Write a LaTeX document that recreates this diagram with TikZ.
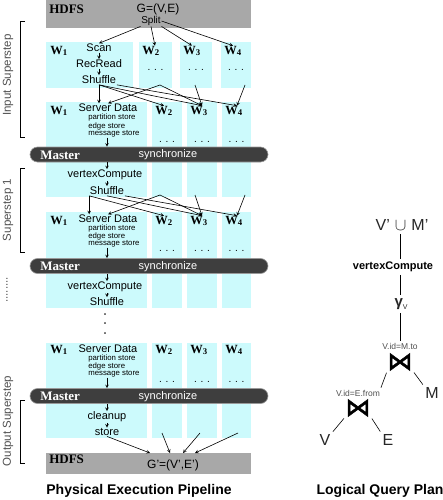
\documentclass[tikz,border=0pt]{standalone}
\usepackage{fontspec}
\setmainfont{Liberation Sans}
\newfontfamily\wserif{Liberation Serif}
\newfontfamily\joinfont[FakeBold=2]{DejaVu Sans}
\usepackage{amsmath}
\usetikzlibrary{arrows,shapes,positioning,calc}

\definecolor{wcyan}{RGB}{204,250,252}
\definecolor{hdfsgray}{RGB}{168,168,168}
\definecolor{mastergray}{RGB}{62,62,62}
\definecolor{labelgray}{RGB}{80,80,80}

\newcommand{\fsz}[1]{\fontsize{#1}{#1}\selectfont}
\newcommand{\wk}[1]{W\textsubscript{#1}}

\tikzset{
	wbox/.style={fill=wcyan},
	wname/.style={anchor=west,inner sep=0pt,font=\wserif\bfseries\fsz{12.5}},
	op/.style={inner sep=0.5pt,font=\fsz{11}},
	store/.style={anchor=west,inner sep=0pt,font=\fsz{7.8}},
	dots/.style={inner sep=0pt,font=\fsz{10}},
	masterbar/.style={draw=gray!80,fill=mastergray,rounded corners=7.5pt,minimum width=238pt,minimum height=15pt,inner sep=0pt},
	mtext/.style={text=white,inner sep=0pt,font=\fsz{11}},
	hdfs/.style={fill=hdfsgray},
	steplabel/.style={rotate=90,text=labelgray,inner sep=0pt,font=\fsz{11.5}},
	plan/.style={inner sep=1pt,text=black!85,font=\fsz{16}},
	joinop/.style={inner sep=0pt,font=\joinfont\fsz{25}},
	cond/.style={inner sep=0pt,text=labelgray,font=\fsz{8.5}},
	planline/.style={shorten <=2pt,shorten >=2pt},
	title/.style={inner sep=0pt,font=\bfseries\fsz{14}},
}

\begin{document}
\begin{tikzpicture}[x=1pt,y=-1pt,>=stealth,line width=0.6pt]
	\useasboundingbox (0,0) rectangle (443,500);

	% input from HDFS
	\fill[hdfs] (46,0) rectangle (251,28);
	\node[anchor=west,inner sep=0pt,font=\wserif\bfseries\fsz{13}] at (49,9) (hdfsin) {HDFS};
	\node[op,font=\fsz{12}] at (158,9) (gin) {G=(V,E)};
	\node[op,font=\fsz{10}] at (151,21) (split) {Split};

	% worker columns
	\fill[wbox] (46,42) rectangle (133,88);
	\fill[wbox] (139,42) rectangle (172,88);
	\fill[wbox] (180,42) rectangle (212,88);
	\fill[wbox] (221,42) rectangle (251,88);
	\foreach \ya/\yb in {102/197,212/308,343/438} {
		\fill[wbox] (46,\ya) rectangle (147,\yb);
		\fill[wbox] (152,\ya) rectangle (182,\yb);
		\fill[wbox] (187,\ya) rectangle (217,\yb);
		\fill[wbox] (222,\ya) rectangle (251,\yb);
	}

	% input superstep: read
	\node[wname] at (50,51) (w1a) {\wk{1}};
	\node[wname] at (142,51) (w2a) {\wk{2}};
	\node[wname] at (183,51) (w3a) {\wk{3}};
	\node[wname] at (224,51) (w4a) {\wk{4}};
	\node[op] at (99,48) (scan) {Scan};
	\node[op] at (99,64) (recread) {RecRead};
	\node[op] at (99,80) (shuf1) {Shuffle};
	\node[dots] at (155.5,70) (d2a) {. . .};
	\node[dots] at (196,70) (d3a) {. . .};
	\node[dots] at (236,70) (d4a) {. . .};
	\coordinate (o2a) at (160,85);
	\coordinate (o3a) at (195,85);
	\coordinate (o4a) at (245,85);

	% input superstep: server data
	\node[wname] at (50,111) (w1b) {\wk{1}};
	\node[wname] at (155,111) (w2b) {\wk{2}};
	\node[wname] at (190,111) (w3b) {\wk{3}};
	\node[wname] at (225,111) (w4b) {\wk{4}};
	\node[op] at (108,108) (sd1) {Server Data};
	\node[store] at (88,117) (ps1) {partition store};
	\node[store] at (88,126) (es1) {edge store};
	\node[store] at (88,134) (ms1) {message store};
	\node[dots] at (167,142) (d2b) {. . .};
	\node[dots] at (202,142) (d3b) {. . .};
	\node[dots] at (236.5,142) (d4b) {. . .};

	\node[masterbar] at (149,154.5) (m1) {};
	\node[mtext,anchor=west,font=\wserif\bfseries\fsz{13}] at (40,155) (mn1) {Master};
	\node[mtext] at (168,155) (sy1) {synchronize};

	% superstep 1
	\node[op] at (105,175) (vc1) {vertexCompute};
	\node[op] at (107,191) (shuf2) {Shuffle};
	\coordinate (o2b) at (160,195);
	\coordinate (o3b) at (195,195);
	\coordinate (o4b) at (245,195);
	\node[wname] at (50,221) (w1c) {\wk{1}};
	\node[wname] at (155,221) (w2c) {\wk{2}};
	\node[wname] at (190,221) (w3c) {\wk{3}};
	\node[wname] at (225,221) (w4c) {\wk{4}};
	\node[op] at (108,219) (sd2) {Server Data};
	\node[store] at (88,228) (ps2) {partition store};
	\node[store] at (88,236) (es2) {edge store};
	\node[store] at (88,244) (ms2) {message store};
	\node[dots] at (167,251) (d2c) {. . .};
	\node[dots] at (202,251) (d3c) {. . .};
	\node[dots] at (236.5,251) (d4c) {. . .};

	\node[masterbar] at (149,266) (m2) {};
	\node[mtext,anchor=west,font=\wserif\bfseries\fsz{13}] at (40,266.5) (mn2) {Master};
	\node[mtext] at (168,266.5) (sy2) {synchronize};

	\node[op] at (105,287) (vc2) {vertexCompute};
	\node[op] at (107,302) (shuf3) {Shuffle};
	\node[dots,rotate=90,font=\fsz{14}] at (105,324) (vdots) {. . .};

	% output superstep
	\node[wname] at (50,350) (w1d) {\wk{1}};
	\node[wname] at (155,350) (w2d) {\wk{2}};
	\node[wname] at (190,350) (w3d) {\wk{3}};
	\node[wname] at (225,350) (w4d) {\wk{4}};
	\node[op] at (108,349) (sd3) {Server Data};
	\node[store] at (88,358) (ps3) {partition store};
	\node[store] at (88,366) (es3) {edge store};
	\node[store] at (88,374) (ms3) {message store};
	\node[dots] at (167,382) (d2d) {. . .};
	\node[dots] at (202,382) (d3d) {. . .};
	\node[dots] at (236.5,382) (d4d) {. . .};

	\node[masterbar] at (149,396) (m3) {};
	\node[mtext,anchor=west,font=\wserif\bfseries\fsz{13}] at (40,396.5) (mn3) {Master};
	\node[mtext] at (168,396.5) (sy3) {synchronize};

	\node[op] at (107,417) (cleanup) {cleanup};
	\node[op] at (107,432) (store) {store};
	\coordinate (o2d) at (162,433);
	\coordinate (o3d) at (200,433);
	\coordinate (o4d) at (238,433);

	% output to HDFS
	\fill[hdfs] (46,453) rectangle (251,474);
	\node[anchor=west,inner sep=0pt,font=\wserif\bfseries\fsz{13}] at (49,459) (hdfsout) {HDFS};
	\node[op,font=\fsz{12}] at (173,465) (gout) {G'=(V',E')};
	\coordinate (t1) at (150,453);
	\coordinate (t2) at (170,453);
	\coordinate (t3) at (183,453);
	\coordinate (t4) at (195,453);

	% arrows: read
	\draw[->] (split.south west) -- (scan.north);
	\draw[->] (split.south) -- ([xshift=4pt]w2a.north);
	\draw[->] (split.south east) -- (w3a.north);
	\draw[->] (split.east) -- (w4a.north);
	\draw[->] (scan) -- (recread);
	\draw[->] (recread) -- (shuf1);
	\draw[->] (shuf1.south) -- (shuf1.south |- sd1.north);
	\draw[->] (shuf1.south) -- (w2b.north);
	\draw[->] (shuf1.south) -- ([xshift=3pt]w3b.north);
	\draw[->] (shuf1.south east) -- ([xshift=3pt]w4b.north);
	\draw[->] (o2a) -- (sd1.north);
	\draw[->] (o2a) -- ([xshift=3pt]w3b.north);
	\draw[->] (o3a) -- ([xshift=3pt]w3b.north);
	\draw[->] (o4a) -- ([xshift=3pt]w4b.north);
	\draw[->] (shuf2 |- ms1.south) -- (shuf2 |- m1.north);

	% arrows: superstep 1
	\draw[->] (shuf2 |- m1.south) -- (shuf2 |- vc1.north);
	\draw[->] (shuf2 |- vc1.south) -- (shuf2.north);
	\draw[->] (shuf2.south west) -- (shuf2.south west |- sd2.north);
	\draw[->] (shuf2.south west) -- (w2c.north);
	\draw[->] (shuf2.south) -- ([xshift=3pt]w3c.north);
	\draw[->] (shuf2.south east) -- ([xshift=3pt]w4c.north);
	\draw[->] (o2b) -- (sd2.north);
	\draw[->] (o2b) -- ([xshift=3pt]w3c.north);
	\draw[->] (o3b) -- ([xshift=3pt]w3c.north);
	\draw[->] (o4b) -- ([xshift=3pt]w4c.north);
	\draw[->] (shuf2 |- ms2.south) -- (shuf2 |- m2.north);
	\draw[->] (shuf3 |- m2.south) -- (shuf3 |- vc2.north);
	\draw[->] (shuf3 |- vc2.south) -- (shuf3.north);

	% arrows: output
	\draw[->] (cleanup |- ms3.south) -- (cleanup |- m3.north);
	\draw[->] (cleanup |- m3.south) -- (cleanup.north);
	\draw[->] (cleanup) -- (store);
	\draw[->] (store.south) -- (t1);
	\draw[->] (o2d) -- (t2);
	\draw[->] (o3d) -- (t3);
	\draw[->] (o4d) -- (t4);

	% superstep brackets
	\draw[line width=0.8pt] (25,21) -- (20,21) -- (20,137) -- (25,137);
	\draw[line width=0.8pt] (25,168) -- (20,168) -- (20,252) -- (25,252);
	\draw[line width=0.8pt] (25,400) -- (20,400) -- (20,463) -- (25,463);
	\node[steplabel] at (8,75) (lin) {Input Superstep};
	\node[steplabel] at (8,210) (lsone) {Superstep 1};
	\node[steplabel] at (7,290) (ldots) {........};
	\node[steplabel] at (8,421) (lout) {Output Superstep};

	% logical query plan
	\node[plan] at (402,225) (res) {V'\hspace{5pt}$\cup$\hspace{5pt}M'};
	\node[op,font=\bfseries\fsz{11}] at (393,267) (vc) {vertexCompute};
	\node[plan,font=\bfseries\fsz{15}] at (401,304) (gam) {γ\raisebox{-3pt}{\mdseries\fsz{7}V}};
	\node[cond] at (400,346) (condm) {V.id=M.to};
	\node[joinop] at (400,362) (jm) {⋈};
	\node[plan] at (432,393) (relm) {M};
	\node[cond] at (358,393) (conde) {V.id=E.from};
	\node[joinop] at (358,408) (je) {⋈};
	\node[plan] at (325,440) (relv) {V};
	\node[plan] at (388,440) (rele) {E};

	\draw[planline] (jm |- res.south) -- (jm |- vc.north);
	\draw[planline] (jm |- vc.south) -- (jm |- gam.north);
	\draw[planline] (jm |- gam.south) -- (jm |- condm.north);
	\draw[planline] (jm.south west) -- (conde.north east);
	\draw[planline] (jm.south east) -- (relm.north west);
	\draw[planline] (je.south west) -- (relv.north east);
	\draw[planline] (je.south east) -- (rele.north west);

	\node[title] at (139,491) (tphys) {Physical Execution Pipeline};
	\node[title] at (380,491) (tlog) {Logical Query Plan};
\end{tikzpicture}
\end{document}
